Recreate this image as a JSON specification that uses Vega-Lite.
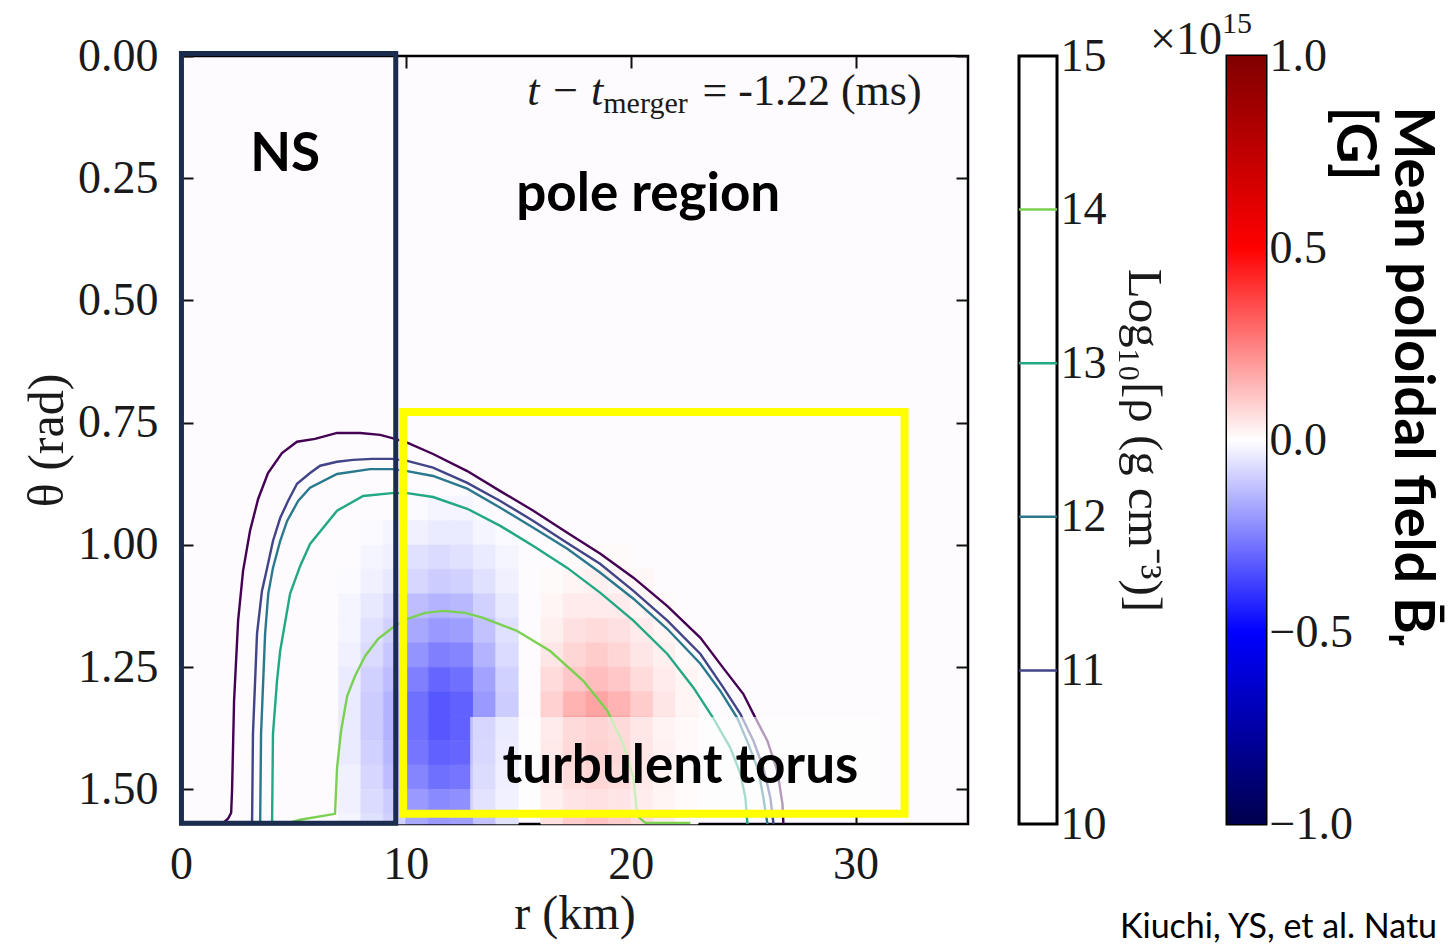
{
  "$schema": "https://vega.github.io/schema/vega-lite/v6.json",
  "background": "white",
  "padding": {"left": 21, "top": 7, "right": 0, "bottom": 0},
  "bounds": "flush",
  "spacing": 51,
  "datasets": {
    "cells": [
      {"r0":7,"r1":8,"t0":1.05,"t1":1.1,"B":-0.01},{"r0":7,"r1":8,"t0":1.1,"t1":1.15,"B":-0.02},{"r0":7,"r1":8,"t0":1.15,"t1":1.2,"B":-0.02},{"r0":7,"r1":8,"t0":1.2,"t1":1.25,"B":-0.03},{"r0":7,"r1":8,"t0":1.25,"t1":1.3,"B":-0.04},{"r0":7,"r1":8,"t0":1.3,"t1":1.35,"B":-0.04},{"r0":7,"r1":8,"t0":1.35,"t1":1.4,"B":-0.04},{"r0":7,"r1":8,"t0":1.4,"t1":1.45,"B":-0.04},{"r0":7,"r1":8,"t0":1.45,"t1":1.5,"B":-0.03},{"r0":7,"r1":8,"t0":1.5,"t1":1.55,"B":-0.03},{"r0":7,"r1":8,"t0":1.55,"t1":1.5708,"B":-0.02},
      {"r0":8,"r1":9,"t0":0.95,"t1":1.0,"B":-0.01},{"r0":8,"r1":9,"t0":1.0,"t1":1.05,"B":-0.02},{"r0":8,"r1":9,"t0":1.05,"t1":1.1,"B":-0.03},{"r0":8,"r1":9,"t0":1.1,"t1":1.15,"B":-0.045},{"r0":8,"r1":9,"t0":1.15,"t1":1.2,"B":-0.06},{"r0":8,"r1":9,"t0":1.2,"t1":1.25,"B":-0.07},{"r0":8,"r1":9,"t0":1.25,"t1":1.3,"B":-0.09},{"r0":8,"r1":9,"t0":1.3,"t1":1.35,"B":-0.1},{"r0":8,"r1":9,"t0":1.35,"t1":1.4,"B":-0.1},{"r0":8,"r1":9,"t0":1.4,"t1":1.45,"B":-0.09},{"r0":8,"r1":9,"t0":1.45,"t1":1.5,"B":-0.08},{"r0":8,"r1":9,"t0":1.5,"t1":1.55,"B":-0.07},{"r0":8,"r1":9,"t0":1.55,"t1":1.5708,"B":-0.06},
      {"r0":9,"r1":10,"t0":0.95,"t1":1.0,"B":-0.02},{"r0":9,"r1":10,"t0":1.0,"t1":1.05,"B":-0.03},{"r0":9,"r1":10,"t0":1.05,"t1":1.1,"B":-0.045},{"r0":9,"r1":10,"t0":1.1,"t1":1.15,"B":-0.07},{"r0":9,"r1":10,"t0":1.15,"t1":1.2,"B":-0.09},{"r0":9,"r1":10,"t0":1.2,"t1":1.25,"B":-0.11},{"r0":9,"r1":10,"t0":1.25,"t1":1.3,"B":-0.13},{"r0":9,"r1":10,"t0":1.3,"t1":1.35,"B":-0.15},{"r0":9,"r1":10,"t0":1.35,"t1":1.4,"B":-0.15},{"r0":9,"r1":10,"t0":1.4,"t1":1.45,"B":-0.14},{"r0":9,"r1":10,"t0":1.45,"t1":1.5,"B":-0.13},{"r0":9,"r1":10,"t0":1.5,"t1":1.55,"B":-0.1},{"r0":9,"r1":10,"t0":1.55,"t1":1.5708,"B":-0.09},
      {"r0":10,"r1":11,"t0":0.9,"t1":0.95,"B":-0.01},{"r0":10,"r1":11,"t0":0.95,"t1":1.0,"B":-0.03},{"r0":10,"r1":11,"t0":1.0,"t1":1.05,"B":-0.06},{"r0":10,"r1":11,"t0":1.05,"t1":1.1,"B":-0.08},{"r0":10,"r1":11,"t0":1.1,"t1":1.15,"B":-0.13},{"r0":10,"r1":11,"t0":1.15,"t1":1.2,"B":-0.17},{"r0":10,"r1":11,"t0":1.2,"t1":1.25,"B":-0.21},{"r0":10,"r1":11,"t0":1.25,"t1":1.3,"B":-0.25},{"r0":10,"r1":11,"t0":1.3,"t1":1.35,"B":-0.28},{"r0":10,"r1":11,"t0":1.35,"t1":1.4,"B":-0.28},{"r0":10,"r1":11,"t0":1.4,"t1":1.45,"B":-0.27},{"r0":10,"r1":11,"t0":1.45,"t1":1.5,"B":-0.24},{"r0":10,"r1":11,"t0":1.5,"t1":1.55,"B":-0.2},{"r0":10,"r1":11,"t0":1.55,"t1":1.5708,"B":-0.17},
      {"r0":11,"r1":12,"t0":0.9,"t1":0.95,"B":-0.02},{"r0":11,"r1":12,"t0":0.95,"t1":1.0,"B":-0.04},{"r0":11,"r1":12,"t0":1.0,"t1":1.05,"B":-0.07},{"r0":11,"r1":12,"t0":1.05,"t1":1.1,"B":-0.1},{"r0":11,"r1":12,"t0":1.1,"t1":1.15,"B":-0.15},{"r0":11,"r1":12,"t0":1.15,"t1":1.2,"B":-0.2},{"r0":11,"r1":12,"t0":1.2,"t1":1.25,"B":-0.25},{"r0":11,"r1":12,"t0":1.25,"t1":1.3,"B":-0.3},{"r0":11,"r1":12,"t0":1.3,"t1":1.35,"B":-0.33},{"r0":11,"r1":12,"t0":1.35,"t1":1.4,"B":-0.33},{"r0":11,"r1":12,"t0":1.4,"t1":1.45,"B":-0.31},{"r0":11,"r1":12,"t0":1.45,"t1":1.5,"B":-0.28},{"r0":11,"r1":12,"t0":1.5,"t1":1.55,"B":-0.23},{"r0":11,"r1":12,"t0":1.55,"t1":1.5708,"B":-0.2},
      {"r0":12,"r1":13,"t0":0.9,"t1":0.95,"B":-0.02},{"r0":12,"r1":13,"t0":0.95,"t1":1.0,"B":-0.04},{"r0":12,"r1":13,"t0":1.0,"t1":1.05,"B":-0.06},{"r0":12,"r1":13,"t0":1.05,"t1":1.1,"B":-0.09},{"r0":12,"r1":13,"t0":1.1,"t1":1.15,"B":-0.14},{"r0":12,"r1":13,"t0":1.15,"t1":1.2,"B":-0.19},{"r0":12,"r1":13,"t0":1.2,"t1":1.25,"B":-0.24},{"r0":12,"r1":13,"t0":1.25,"t1":1.3,"B":-0.28},{"r0":12,"r1":13,"t0":1.3,"t1":1.35,"B":-0.31},{"r0":12,"r1":13,"t0":1.35,"t1":1.4,"B":-0.31},{"r0":12,"r1":13,"t0":1.4,"t1":1.45,"B":-0.3},{"r0":12,"r1":13,"t0":1.45,"t1":1.5,"B":-0.27},{"r0":12,"r1":13,"t0":1.5,"t1":1.55,"B":-0.22},{"r0":12,"r1":13,"t0":1.55,"t1":1.5708,"B":-0.19},
      {"r0":13,"r1":14,"t0":0.9,"t1":0.95,"B":-0.01},{"r0":13,"r1":14,"t0":0.95,"t1":1.0,"B":-0.02},{"r0":13,"r1":14,"t0":1.0,"t1":1.05,"B":-0.04},{"r0":13,"r1":14,"t0":1.05,"t1":1.1,"B":-0.06},{"r0":13,"r1":14,"t0":1.1,"t1":1.15,"B":-0.09},{"r0":13,"r1":14,"t0":1.15,"t1":1.2,"B":-0.12},{"r0":13,"r1":14,"t0":1.2,"t1":1.25,"B":-0.15},{"r0":13,"r1":14,"t0":1.25,"t1":1.3,"B":-0.18},{"r0":13,"r1":14,"t0":1.3,"t1":1.35,"B":-0.2},{"r0":13,"r1":14,"t0":1.35,"t1":1.4,"B":-0.2},{"r0":13,"r1":14,"t0":1.4,"t1":1.45,"B":-0.19},{"r0":13,"r1":14,"t0":1.45,"t1":1.5,"B":-0.17},{"r0":13,"r1":14,"t0":1.5,"t1":1.55,"B":-0.14},{"r0":13,"r1":14,"t0":1.55,"t1":1.5708,"B":-0.12},
      {"r0":14,"r1":15,"t0":0.95,"t1":1.0,"B":-0.01},{"r0":14,"r1":15,"t0":1.0,"t1":1.05,"B":-0.02},{"r0":14,"r1":15,"t0":1.05,"t1":1.1,"B":-0.03},{"r0":14,"r1":15,"t0":1.1,"t1":1.15,"B":-0.045},{"r0":14,"r1":15,"t0":1.15,"t1":1.2,"B":-0.06},{"r0":14,"r1":15,"t0":1.2,"t1":1.25,"B":-0.07},{"r0":14,"r1":15,"t0":1.25,"t1":1.3,"B":-0.09},{"r0":14,"r1":15,"t0":1.3,"t1":1.35,"B":-0.1},{"r0":14,"r1":15,"t0":1.35,"t1":1.4,"B":-0.1},{"r0":14,"r1":15,"t0":1.4,"t1":1.45,"B":-0.09},{"r0":14,"r1":15,"t0":1.45,"t1":1.5,"B":-0.08},{"r0":14,"r1":15,"t0":1.5,"t1":1.55,"B":-0.07},{"r0":14,"r1":15,"t0":1.55,"t1":1.5708,"B":-0.06},
      {"r0":16,"r1":17,"t0":1.05,"t1":1.1,"B":0.01},{"r0":16,"r1":17,"t0":1.1,"t1":1.15,"B":0.02},{"r0":16,"r1":17,"t0":1.15,"t1":1.2,"B":0.03},{"r0":16,"r1":17,"t0":1.2,"t1":1.25,"B":0.05},{"r0":16,"r1":17,"t0":1.25,"t1":1.3,"B":0.07},{"r0":16,"r1":17,"t0":1.3,"t1":1.35,"B":0.09},{"r0":16,"r1":17,"t0":1.35,"t1":1.4,"B":0.1},{"r0":16,"r1":17,"t0":1.4,"t1":1.45,"B":0.11},{"r0":16,"r1":17,"t0":1.45,"t1":1.5,"B":0.1},{"r0":16,"r1":17,"t0":1.5,"t1":1.55,"B":0.08},{"r0":16,"r1":17,"t0":1.55,"t1":1.5708,"B":0.06},
      {"r0":17,"r1":18,"t0":1.0,"t1":1.05,"B":0.01},{"r0":17,"r1":18,"t0":1.05,"t1":1.1,"B":0.02},{"r0":17,"r1":18,"t0":1.1,"t1":1.15,"B":0.04},{"r0":17,"r1":18,"t0":1.15,"t1":1.2,"B":0.06},{"r0":17,"r1":18,"t0":1.2,"t1":1.25,"B":0.08},{"r0":17,"r1":18,"t0":1.25,"t1":1.3,"B":0.11},{"r0":17,"r1":18,"t0":1.3,"t1":1.35,"B":0.15},{"r0":17,"r1":18,"t0":1.35,"t1":1.4,"B":0.18},{"r0":17,"r1":18,"t0":1.4,"t1":1.45,"B":0.19},{"r0":17,"r1":18,"t0":1.45,"t1":1.5,"B":0.17},{"r0":17,"r1":18,"t0":1.5,"t1":1.55,"B":0.13},{"r0":17,"r1":18,"t0":1.55,"t1":1.5708,"B":0.1},
      {"r0":18,"r1":19,"t0":1.0,"t1":1.05,"B":0.01},{"r0":18,"r1":19,"t0":1.05,"t1":1.1,"B":0.03},{"r0":18,"r1":19,"t0":1.1,"t1":1.15,"B":0.04},{"r0":18,"r1":19,"t0":1.15,"t1":1.2,"B":0.07},{"r0":18,"r1":19,"t0":1.2,"t1":1.25,"B":0.1},{"r0":18,"r1":19,"t0":1.25,"t1":1.3,"B":0.13},{"r0":18,"r1":19,"t0":1.3,"t1":1.35,"B":0.18},{"r0":18,"r1":19,"t0":1.35,"t1":1.4,"B":0.21},{"r0":18,"r1":19,"t0":1.4,"t1":1.45,"B":0.22},{"r0":18,"r1":19,"t0":1.45,"t1":1.5,"B":0.2},{"r0":18,"r1":19,"t0":1.5,"t1":1.55,"B":0.15},{"r0":18,"r1":19,"t0":1.55,"t1":1.5708,"B":0.12},
      {"r0":19,"r1":20,"t0":1.0,"t1":1.05,"B":0.01},{"r0":19,"r1":20,"t0":1.05,"t1":1.1,"B":0.02},{"r0":19,"r1":20,"t0":1.1,"t1":1.15,"B":0.04},{"r0":19,"r1":20,"t0":1.15,"t1":1.2,"B":0.06},{"r0":19,"r1":20,"t0":1.2,"t1":1.25,"B":0.08},{"r0":19,"r1":20,"t0":1.25,"t1":1.3,"B":0.11},{"r0":19,"r1":20,"t0":1.3,"t1":1.35,"B":0.15},{"r0":19,"r1":20,"t0":1.35,"t1":1.4,"B":0.18},{"r0":19,"r1":20,"t0":1.4,"t1":1.45,"B":0.19},{"r0":19,"r1":20,"t0":1.45,"t1":1.5,"B":0.17},{"r0":19,"r1":20,"t0":1.5,"t1":1.55,"B":0.13},{"r0":19,"r1":20,"t0":1.55,"t1":1.5708,"B":0.1},
      {"r0":20,"r1":21,"t0":1.05,"t1":1.1,"B":0.015},{"r0":20,"r1":21,"t0":1.1,"t1":1.15,"B":0.02},{"r0":20,"r1":21,"t0":1.15,"t1":1.2,"B":0.04},{"r0":20,"r1":21,"t0":1.2,"t1":1.25,"B":0.05},{"r0":20,"r1":21,"t0":1.25,"t1":1.3,"B":0.07},{"r0":20,"r1":21,"t0":1.3,"t1":1.35,"B":0.1},{"r0":20,"r1":21,"t0":1.35,"t1":1.4,"B":0.12},{"r0":20,"r1":21,"t0":1.4,"t1":1.45,"B":0.12},{"r0":20,"r1":21,"t0":1.45,"t1":1.5,"B":0.11},{"r0":20,"r1":21,"t0":1.5,"t1":1.55,"B":0.09},{"r0":20,"r1":21,"t0":1.55,"t1":1.5708,"B":0.07},
      {"r0":21,"r1":22,"t0":1.1,"t1":1.15,"B":0.01},{"r0":21,"r1":22,"t0":1.15,"t1":1.2,"B":0.02},{"r0":21,"r1":22,"t0":1.2,"t1":1.25,"B":0.03},{"r0":21,"r1":22,"t0":1.25,"t1":1.3,"B":0.04},{"r0":21,"r1":22,"t0":1.3,"t1":1.35,"B":0.05},{"r0":21,"r1":22,"t0":1.35,"t1":1.4,"B":0.06},{"r0":21,"r1":22,"t0":1.4,"t1":1.45,"B":0.07},{"r0":21,"r1":22,"t0":1.45,"t1":1.5,"B":0.06},{"r0":21,"r1":22,"t0":1.5,"t1":1.55,"B":0.05},{"r0":21,"r1":22,"t0":1.55,"t1":1.5708,"B":0.04},
      {"r0":22,"r1":23,"t0":1.2,"t1":1.25,"B":0.01},{"r0":22,"r1":23,"t0":1.25,"t1":1.3,"B":0.02},{"r0":22,"r1":23,"t0":1.3,"t1":1.35,"B":0.02},{"r0":22,"r1":23,"t0":1.35,"t1":1.4,"B":0.03},{"r0":22,"r1":23,"t0":1.4,"t1":1.45,"B":0.03},{"r0":22,"r1":23,"t0":1.45,"t1":1.5,"B":0.02},{"r0":22,"r1":23,"t0":1.5,"t1":1.55,"B":0.02},{"r0":22,"r1":23,"t0":1.55,"t1":1.5708,"B":0.01}
    ],
    "contours": [
      {"lev":10,"i":0,"r":1.82,"t":1.5708},{"lev":10,"i":1,"r":2.09,"t":1.56},{"lev":10,"i":2,"r":2.23,"t":1.548},{"lev":10,"i":3,"r":2.27,"t":1.503},{"lev":10,"i":4,"r":2.36,"t":1.319},{"lev":10,"i":5,"r":2.54,"t":1.155},{"lev":10,"i":6,"r":2.76,"t":1.053},{"lev":10,"i":7,"r":3.07,"t":0.971},{"lev":10,"i":8,"r":3.43,"t":0.906},{"lev":10,"i":9,"r":3.87,"t":0.853},{"lev":10,"i":10,"r":4.49,"t":0.812},{"lev":10,"i":11,"r":5.16,"t":0.789},{"lev":10,"i":12,"r":5.96,"t":0.783},{"lev":10,"i":13,"r":6.94,"t":0.771},{"lev":10,"i":14,"r":7.97,"t":0.771},{"lev":10,"i":15,"r":8.86,"t":0.775},{"lev":10,"i":16,"r":9.52,"t":0.783},{"lev":10,"i":17,"r":10.06,"t":0.791},{"lev":10,"i":18,"r":11.21,"t":0.814},{"lev":10,"i":19,"r":12.73,"t":0.849},{"lev":10,"i":20,"r":14.2,"t":0.89},{"lev":10,"i":21,"r":15.67,"t":0.93},{"lev":10,"i":22,"r":17.18,"t":0.975},{"lev":10,"i":23,"r":18.65,"t":1.018},{"lev":10,"i":24,"r":20.12,"t":1.067},{"lev":10,"i":25,"r":21.63,"t":1.125},{"lev":10,"i":26,"r":23.1,"t":1.19},{"lev":10,"i":27,"r":24.12,"t":1.252},{"lev":10,"i":28,"r":25.01,"t":1.305},{"lev":10,"i":29,"r":25.46,"t":1.346},{"lev":10,"i":30,"r":26.08,"t":1.401},{"lev":10,"i":31,"r":26.52,"t":1.462},{"lev":10,"i":32,"r":26.75,"t":1.53},{"lev":10,"i":33,"r":26.79,"t":1.5708},
      {"lev":11,"i":0,"r":3.16,"t":1.5708},{"lev":11,"i":1,"r":3.2,"t":1.387},{"lev":11,"i":2,"r":3.38,"t":1.182},{"lev":11,"i":3,"r":3.6,"t":1.094},{"lev":11,"i":4,"r":3.83,"t":1.047},{"lev":11,"i":5,"r":4.09,"t":0.992},{"lev":11,"i":6,"r":4.41,"t":0.945},{"lev":11,"i":7,"r":4.76,"t":0.91},{"lev":11,"i":8,"r":5.16,"t":0.875},{"lev":11,"i":9,"r":5.74,"t":0.853},{"lev":11,"i":10,"r":6.19,"t":0.838},{"lev":11,"i":11,"r":6.94,"t":0.83},{"lev":11,"i":12,"r":7.65,"t":0.826},{"lev":11,"i":13,"r":8.5,"t":0.824},{"lev":11,"i":14,"r":9.39,"t":0.824},{"lev":11,"i":15,"r":10.06,"t":0.828},{"lev":11,"i":16,"r":11.21,"t":0.842},{"lev":11,"i":17,"r":12.73,"t":0.873},{"lev":11,"i":18,"r":14.2,"t":0.91},{"lev":11,"i":19,"r":15.67,"t":0.951},{"lev":11,"i":20,"r":17.18,"t":0.996},{"lev":11,"i":21,"r":18.65,"t":1.039},{"lev":11,"i":22,"r":20.12,"t":1.094},{"lev":11,"i":23,"r":21.63,"t":1.155},{"lev":11,"i":24,"r":23.1,"t":1.223},{"lev":11,"i":25,"r":24.12,"t":1.292},{"lev":11,"i":26,"r":24.88,"t":1.346},{"lev":11,"i":27,"r":25.46,"t":1.401},{"lev":11,"i":28,"r":25.9,"t":1.456},{"lev":11,"i":29,"r":26.21,"t":1.517},{"lev":11,"i":30,"r":26.35,"t":1.5708},
      {"lev":12,"i":0,"r":3.52,"t":1.5708},{"lev":12,"i":1,"r":3.56,"t":1.387},{"lev":12,"i":2,"r":3.74,"t":1.182},{"lev":12,"i":3,"r":3.88,"t":1.1},{"lev":12,"i":4,"r":4.09,"t":1.047},{"lev":12,"i":5,"r":4.41,"t":0.992},{"lev":12,"i":6,"r":4.72,"t":0.951},{"lev":12,"i":7,"r":5.21,"t":0.91},{"lev":12,"i":8,"r":5.74,"t":0.883},{"lev":12,"i":9,"r":6.94,"t":0.855},{"lev":12,"i":10,"r":8.41,"t":0.845},{"lev":12,"i":11,"r":9.39,"t":0.845},{"lev":12,"i":12,"r":10.06,"t":0.849},{"lev":12,"i":13,"r":11.21,"t":0.859},{"lev":12,"i":14,"r":12.73,"t":0.885},{"lev":12,"i":15,"r":14.2,"t":0.924},{"lev":12,"i":16,"r":15.67,"t":0.965},{"lev":12,"i":17,"r":17.18,"t":1.008},{"lev":12,"i":18,"r":18.65,"t":1.057},{"lev":12,"i":19,"r":20.12,"t":1.11},{"lev":12,"i":20,"r":21.63,"t":1.172},{"lev":12,"i":21,"r":23.1,"t":1.243},{"lev":12,"i":22,"r":23.99,"t":1.299},{"lev":12,"i":23,"r":24.74,"t":1.354},{"lev":12,"i":24,"r":25.23,"t":1.407},{"lev":12,"i":25,"r":25.68,"t":1.462},{"lev":12,"i":26,"r":25.9,"t":1.517},{"lev":12,"i":27,"r":26.08,"t":1.5708},
      {"lev":13,"i":0,"r":4.05,"t":1.5708},{"lev":13,"i":1,"r":4.09,"t":1.387},{"lev":13,"i":2,"r":4.27,"t":1.278},{"lev":13,"i":3,"r":4.41,"t":1.217},{"lev":13,"i":4,"r":4.85,"t":1.1},{"lev":13,"i":5,"r":5.3,"t":1.043},{"lev":13,"i":6,"r":5.74,"t":0.998},{"lev":13,"i":7,"r":6.94,"t":0.93},{"lev":13,"i":8,"r":8.1,"t":0.9},{"lev":13,"i":9,"r":9.39,"t":0.894},{"lev":13,"i":10,"r":10.06,"t":0.894},{"lev":13,"i":11,"r":11.21,"t":0.902},{"lev":13,"i":12,"r":12.73,"t":0.926},{"lev":13,"i":13,"r":14.2,"t":0.961},{"lev":13,"i":14,"r":15.67,"t":1.002},{"lev":13,"i":15,"r":17.18,"t":1.047},{"lev":13,"i":16,"r":18.65,"t":1.098},{"lev":13,"i":17,"r":20.12,"t":1.155},{"lev":13,"i":18,"r":21.63,"t":1.223},{"lev":13,"i":19,"r":22.79,"t":1.292},{"lev":13,"i":20,"r":23.67,"t":1.354},{"lev":13,"i":21,"r":24.43,"t":1.415},{"lev":13,"i":22,"r":24.88,"t":1.468},{"lev":13,"i":23,"r":25.1,"t":1.517},{"lev":13,"i":24,"r":25.19,"t":1.5708},
      {"lev":14,"i":0,"r":4.63,"t":1.5708},{"lev":14,"i":1,"r":5.3,"t":1.562},{"lev":14,"i":2,"r":6.85,"t":1.55},{"lev":14,"i":3,"r":6.94,"t":1.456},{"lev":14,"i":4,"r":7.12,"t":1.38},{"lev":14,"i":5,"r":7.39,"t":1.309},{"lev":14,"i":6,"r":7.74,"t":1.268},{"lev":14,"i":7,"r":8.19,"t":1.227},{"lev":14,"i":8,"r":8.77,"t":1.192},{"lev":14,"i":9,"r":9.39,"t":1.17},{"lev":14,"i":10,"r":10.06,"t":1.151},{"lev":14,"i":11,"r":10.86,"t":1.139},{"lev":14,"i":12,"r":11.66,"t":1.135},{"lev":14,"i":13,"r":12.64,"t":1.139},{"lev":14,"i":14,"r":13.44,"t":1.149},{"lev":14,"i":15,"r":14.95,"t":1.176},{"lev":14,"i":16,"r":16.42,"t":1.217},{"lev":14,"i":17,"r":17.89,"t":1.278},{"lev":14,"i":18,"r":18.96,"t":1.339},{"lev":14,"i":19,"r":19.67,"t":1.407},{"lev":14,"i":20,"r":20.12,"t":1.476},{"lev":14,"i":21,"r":20.29,"t":1.554},{"lev":14,"i":22,"r":20.65,"t":1.5685},{"lev":14,"i":23,"r":22.65,"t":1.5685}
    ],
    "labels": [
      {"label":"NS","r":4.63,"t":0.235},
      {"label":"pole region","r":20.78,"t":0.317},
      {"label":"turbulent torus","r":22.21,"t":1.487}
    ]
  },
  "hconcat": [
    {
      "width": 787,
      "height": 768,
      "view": {"fill": "#fdfbfd", "stroke": "black", "strokeWidth": 2.5},
      "resolve": {"axis": {"x": "independent", "y": "independent"}},
      "layer": [
        {
          "data": {"name": "cells"},
          "mark": {"type": "rect", "strokeWidth": 0.6},
          "encoding": {
            "x": {"field": "r0", "type": "quantitative", "scale": {"domain": [0, 35], "nice": false, "zero": false},
                  "axis": {"orient": "bottom", "values": [0, 10, 20, 30], "format": "d", "title": "r (km)", "titleFontSize": 48, "offset": -12, "tickSize": 12, "labelPadding": 18, "titlePadding": 3}},
            "x2": {"field": "r1"},
            "y": {"field": "t0", "type": "quantitative", "scale": {"domain": [0, 1.5708], "reverse": true, "nice": false, "zero": false},
                  "axis": {"orient": "left", "values": [0, 0.25, 0.5, 0.75, 1, 1.25, 1.5], "format": ".2f", "title": "θ (rad)", "offset": -12, "tickSize": 12, "labelPadding": 23, "titlePadding": 5}},
            "y2": {"field": "t1"},
            "fill": {"field": "B", "type": "quantitative", "scale": {"domain": [-1, -0.5, 0, 0.5, 1], "range": ["#00004d", "#0000ff", "#ffffff", "#ff0000", "#800000"], "interpolate": "rgb"}, "legend": null},
            "stroke": {"field": "B", "type": "quantitative", "scale": {"domain": [-1, -0.5, 0, 0.5, 1], "range": ["#00004d", "#0000ff", "#ffffff", "#ff0000", "#800000"], "interpolate": "rgb"}, "legend": null}
          }
        },
        {
          "data": {"name": "contours"},
          "mark": {"type": "line", "strokeWidth": 2.4, "interpolate": "linear"},
          "encoding": {
            "x": {"field": "r", "type": "quantitative",
                  "axis": {"orient": "top", "values": [0, 10, 20, 30], "labels": false, "title": null, "offset": -12, "tickSize": 12}},
            "y": {"field": "t", "type": "quantitative",
                  "axis": {"orient": "right", "values": [0, 0.25, 0.5, 0.75, 1, 1.25, 1.5], "labels": false, "title": null, "offset": -12, "tickSize": 12}},
            "color": {"field": "lev", "type": "quantitative", "scale": {"scheme": "viridis", "domain": [10, 15]}, "legend": null},
            "detail": {"field": "lev", "type": "nominal"},
            "order": {"field": "i", "type": "quantitative"}
          }
        },
        {
          "data": {"values": [{}]},
          "mark": {"type": "rect", "fill": "white", "opacity": 0.6},
          "encoding": {
            "x": {"datum": 12.86, "type": "quantitative", "axis": null}, "x2": {"datum": 31.1},
            "y": {"datum": 1.352, "type": "quantitative", "axis": null}, "y2": {"datum": 1.545}
          }
        },
        {
          "data": {"values": [{}]},
          "mark": {"type": "rect", "fillOpacity": 0, "stroke": "#1b2d4f", "strokeWidth": 5},
          "encoding": {
            "x": {"datum": 0.02, "type": "quantitative", "axis": null}, "x2": {"datum": 9.55},
            "y": {"datum": -0.005, "type": "quantitative", "axis": null}, "y2": {"datum": 1.5695}
          }
        },
        {
          "data": {"values": [{}]},
          "mark": {"type": "rect", "fillOpacity": 0, "stroke": "#ffff00", "strokeWidth": 8},
          "encoding": {
            "x": {"datum": 9.88, "type": "quantitative", "axis": null}, "x2": {"datum": 32.18},
            "y": {"datum": 0.728, "type": "quantitative", "axis": null}, "y2": {"datum": 1.55}
          }
        },
        {
          "data": {"name": "labels"},
          "mark": {"type": "text", "font": "Lato", "fontWeight": "bold", "fontSize": 53, "align": "center", "baseline": "alphabetic", "color": "black"},
          "encoding": {
            "x": {"field": "r", "type": "quantitative", "axis": null},
            "y": {"field": "t", "type": "quantitative", "axis": null},
            "text": {"field": "label"}
          }
        },
        {
          "data": {"values": [{}]},
          "mark": {"type": "text", "text": "t − t", "font": "Liberation Serif", "fontStyle": "italic", "fontSize": 44, "align": "right", "baseline": "alphabetic", "color": "#1a1a1a"},
          "encoding": {
            "x": {"datum": 18.78, "type": "quantitative", "axis": null},
            "y": {"datum": 0.1, "type": "quantitative", "axis": null}
          }
        },
        {
          "data": {"values": [{}]},
          "mark": {"type": "text", "text": "merger", "font": "Liberation Serif", "fontSize": 30, "align": "left", "baseline": "alphabetic", "color": "#1a1a1a"},
          "encoding": {
            "x": {"datum": 18.78, "type": "quantitative", "axis": null},
            "y": {"datum": 0.116, "type": "quantitative", "axis": null}
          }
        },
        {
          "data": {"values": [{}]},
          "mark": {"type": "text", "text": "= -1.22 (ms)", "font": "Liberation Serif", "fontSize": 44, "align": "left", "baseline": "alphabetic", "color": "#1a1a1a"},
          "encoding": {
            "x": {"datum": 23.19, "type": "quantitative", "axis": null},
            "y": {"datum": 0.1, "type": "quantitative", "axis": null}
          }
        }
      ]
    },
    {
      "bounds": "flush",
      "spacing": 170,
      "hconcat": [
        {
          "width": 38,
          "height": 768,
          "view": {"fill": "white", "stroke": "black", "strokeWidth": 3},
          "data": {"values": [{"lev": 11}, {"lev": 12}, {"lev": 13}, {"lev": 14}]},
          "mark": {"type": "rule", "strokeWidth": 2.5},
          "encoding": {
            "y": {"field": "lev", "type": "quantitative", "scale": {"domain": [10, 15], "nice": false, "zero": false},
                  "axis": {"orient": "right", "values": [10, 11, 12, 13, 14, 15], "format": "d", "ticks": false, "labelPadding": 3,
                           "title": "Log₁₀[ρ (g cm⁻³)]", "titleFontSize": 49, "titlePadding": 12, "titleAngle": 90}},
            "x": {"datum": 0, "type": "quantitative", "scale": {"domain": [0, 1]}, "axis": null},
            "x2": {"datum": 1},
            "color": {"field": "lev", "type": "quantitative", "scale": {"scheme": "viridis", "domain": [10, 15]}, "legend": null}
          }
        },
        {
          "width": 39,
          "height": 768,
          "view": {"stroke": "black", "strokeWidth": 3},
          "layer": [
            {
              "data": {"values": [{}]},
              "mark": {"type": "rect", "fill": {"gradient": "linear", "x1": 0, "y1": 1, "x2": 0, "y2": 0,
                       "stops": [{"offset": 0, "color": "#00004d"}, {"offset": 0.25, "color": "#0000ff"}, {"offset": 0.5, "color": "#ffffff"}, {"offset": 0.75, "color": "#ff0000"}, {"offset": 1, "color": "#800000"}]}},
              "encoding": {
                "x": {"datum": 0, "type": "quantitative", "scale": {"domain": [0, 1]}, "axis": null},
                "x2": {"datum": 1},
                "y": {"datum": -1, "type": "quantitative", "scale": {"domain": [-1, 1], "nice": false, "zero": false},
                      "axis": {"orient": "right", "values": [-1, -0.5, 0, 0.5, 1], "format": ".1f", "ticks": false, "labelPadding": 3,
                               "title": ["Mean poloidal field B̄ᵣ", "[G]"], "titleFont": "Lato", "titleFontWeight": "bold", "titleFontSize": 56,
                               "titleAngle": 90, "titleAlign": "left", "titleBaseline": "alphabetic", "titleX": 128, "titleY": 50, "titleLineHeight": 58, "titleColor": "black"}},
                "y2": {"datum": 1}
              }
            },
            {
              "data": {"values": [{}]},
              "mark": {"type": "text", "text": "×10", "font": "Liberation Serif", "fontSize": 46, "align": "right", "baseline": "alphabetic", "color": "#1a1a1a"},
              "encoding": {
                "x": {"datum": -0.128, "type": "quantitative"},
                "y": {"datum": 1.005, "type": "quantitative"}
              }
            },
            {
              "data": {"values": [{}]},
              "mark": {"type": "text", "text": "15", "font": "Liberation Serif", "fontSize": 30, "align": "left", "baseline": "alphabetic", "color": "#1a1a1a"},
              "encoding": {
                "x": {"datum": -0.128, "type": "quantitative"},
                "y": {"datum": 1.06, "type": "quantitative"}
              }
            },
            {
              "data": {"values": [{}]},
              "mark": {"type": "text", "text": "Kiuchi, YS, et al. Nature Astronomy", "font": "Lato", "fontSize": 34, "align": "left", "baseline": "alphabetic", "color": "black", "limit": 328, "ellipsis": " "},
              "encoding": {
                "x": {"datum": -2.744, "type": "quantitative"},
                "y": {"datum": -1.297, "type": "quantitative"}
              }
            }
          ]
        }
      ]
    }
  ],
  "config": {
    "view": {"stroke": "black", "strokeWidth": 2.5},
    "axis": {"grid": false, "domain": false, "labelFont": "Liberation Serif", "labelFontSize": 46, "labelColor": "#1a1a1a",
             "titleFont": "Liberation Serif", "titleFontSize": 50, "titleFontWeight": "normal", "titleColor": "#1a1a1a",
             "tickColor": "#111111", "tickWidth": 2, "labelFlush": false, "labelOverlap": false},
    "text": {"font": "Lato"}
  }
}
